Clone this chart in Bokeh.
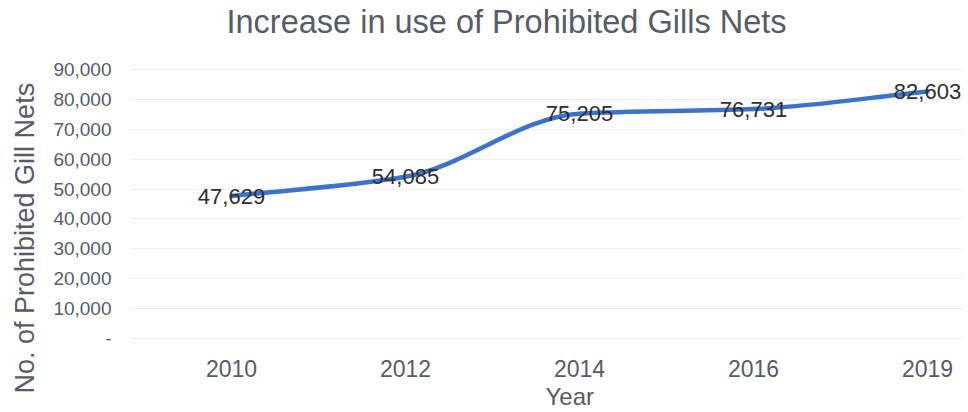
import numpy as np
from bokeh.plotting import figure
from bokeh.models import Range1d, FixedTicker, CustomJSTickFormatter, Title, ColumnDataSource
from bokeh.core.properties import value
from bokeh.embed import file_html
from bokeh.resources import INLINE

# ---- data ----
years = ["2010", "2012", "2014", "2016", "2019"]
nets = [47629, 54085, 75205, 76731, 82603]
y_ticks = [0, 10000, 20000, 30000, 40000, 50000, 60000, 70000, 80000, 90000]
title_text = "Increase in use of Prohibited Gills Nets"
x_title = "Year"
y_title = "No. of Prohibited Gill Nets"

FONT = "Liberation Sans"
GREY = "#555c66"

idx = list(range(len(years)))

p = figure(width=968, height=412, output_backend="svg", toolbar_location=None,
           x_range=Range1d(-0.586, 4.207), y_range=Range1d(-2332, 99327),
           min_border_left=125, min_border_right=5, min_border_top=40, min_border_bottom=67)
p.outline_line_color = None
p.background_fill_color = "white"
p.border_fill_color = "white"

# title
p.title.text = title_text
p.title.align = "left"
p.title.offset = 97
p.title.text_font = FONT
p.title.text_font_size = "32.5px"
p.title.text_font_style = "normal"
p.title.text_color = GREY
p.title.standoff = 3

# axes
p.xaxis.ticker = FixedTicker(ticks=idx)
p.xaxis.major_label_overrides = {i: y for i, y in zip(idx, years)}
p.yaxis.ticker = FixedTicker(ticks=y_ticks)
p.yaxis.formatter = CustomJSTickFormatter(code="return tick == 0 ? '-' : tick.toLocaleString('en-US');")
for ax in (p.xaxis[0], p.yaxis[0]):
    ax.axis_line_color = None
    ax.major_tick_line_color = None
    ax.minor_tick_line_color = None
    ax.major_label_text_font = FONT
    ax.major_label_text_color = GREY
p.xaxis.major_label_text_font_size = "23px"
p.yaxis.major_label_text_font_size = "19px"
p.xaxis.major_label_standoff = 8
p.yaxis.major_label_standoff = 12

p.xgrid.grid_line_color = None
p.ygrid.ticker = FixedTicker(ticks=y_ticks)
p.ygrid.grid_line_color = "#efefef"
p.ygrid.grid_line_width = 1

# axis titles as side titles (so they can be offset like the reference)
yt = Title(text=y_title, align="left", vertical_align="top", offset=-48, text_font=FONT,
           text_font_size="27px", text_font_style="normal", text_color=GREY, standoff=18)
p.add_layout(yt, "left")
xt = Title(text=x_title, align="left", offset=416, text_font=FONT, text_font_size="24px",
           text_font_style="normal", text_color=GREY, standoff=2)
p.add_layout(xt, "below")

# smoothed line (monotone cubic -> Bezier) built from the data
xs = np.array(idx, dtype=float)
ys = np.array(nets, dtype=float)
d = np.diff(ys) / np.diff(xs)
m = np.zeros_like(ys)
m[0], m[-1] = d[0], d[-1]
for i in range(1, len(ys) - 1):
    if d[i - 1] * d[i] <= 0:
        m[i] = 0.0
    else:
        m[i] = 2.0 / (1.0 / d[i - 1] + 1.0 / d[i])
seg = dict(x0=[], y0=[], x1=[], y1=[], cx0=[], cy0=[], cx1=[], cy1=[])
for i in range(len(xs) - 1):
    h = xs[i + 1] - xs[i]
    seg["x0"].append(xs[i]); seg["y0"].append(ys[i])
    seg["x1"].append(xs[i + 1]); seg["y1"].append(ys[i + 1])
    seg["cx0"].append(xs[i] + h / 3); seg["cy0"].append(ys[i] + m[i] * h / 3)
    seg["cx1"].append(xs[i + 1] - h / 3); seg["cy1"].append(ys[i + 1] - m[i + 1] * h / 3)
p.bezier(x0="x0", y0="y0", x1="x1", y1="y1", cx0="cx0", cy0="cy0", cx1="cx1", cy1="cy1",
         source=ColumnDataSource(seg), line_color="#3b73cb", line_width=4.5, line_cap="round")

# data labels
src = ColumnDataSource(dict(x=idx, y=nets, t=[f"{v:,}" for v in nets]))
p.text(x="x", y="y", text="t", source=src, text_align="center", text_baseline="middle",
       text_font=value(FONT), text_font_size="22px", text_color="#2e2e2e")

open("out.html", "w").write(file_html(p, INLINE))
